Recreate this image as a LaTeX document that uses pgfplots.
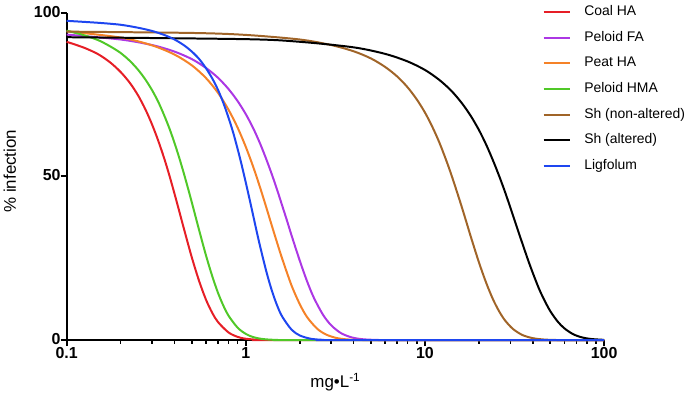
\documentclass[border=0pt]{standalone}
\usepackage{fontspec}
\setmainfont{Liberation Sans}
\usepackage{pgfplots}
\pgfplotsset{compat=1.18}

\definecolor{coalred}{RGB}{230,30,38}
\definecolor{peloidpurple}{RGB}{172,55,228}
\definecolor{peatorange}{RGB}{245,130,40}
\definecolor{hmagreen}{RGB}{80,200,40}
\definecolor{shbrown}{RGB}{160,100,40}
\definecolor{ligblue}{RGB}{30,70,240}

\begin{document}
\begin{tikzpicture}
\begin{axis}[
    scale only axis,
    width=540pt, height=329pt,
    xmode=log,
    xmin=0.1, xmax=100, ymin=0, ymax=100,
    axis lines=left,
    axis line style={line width=2pt, -},
    clip=false,
    xtick={0.1,1,10,100},
    xticklabels={0.1,1,10,100},
    minor xtick={0.2,0.3,0.4,0.5,0.6,0.7,0.8,0.9,2,3,4,5,6,7,8,9,20,30,40,50,60,70,80,90},
    ytick={0,50,100},
    yticklabels={0,50,100},
    tick align=outside,
    major tick length=6pt,
    minor tick length=3.5pt,
    tick style={line width=2pt, black},
    minor tick style={line width=1.6pt},
    /pgf/number format/assume math mode=true,
    tick label style={font=\fontsize{16}{16}\selectfont\bfseries, inner sep=0pt},
    xticklabel style={yshift=-1.5pt},
    yticklabel style={yshift=1pt},
    xlabel={mg•L\textsuperscript{-1}},
    xlabel style={at={(axis description cs:0.5,-0.1286)}, anchor=center, font=\fontsize{17}{17}\selectfont},
    ylabel={\% infection},
    ylabel style={at={(axis description cs:-0.1056,0.516)}, anchor=center, font=\fontsize{17}{17}\selectfont},
    legend cell align=left,
    legend image code/.code={\draw[#1, line width=2pt] (0pt,0pt) -- (27pt,0pt);},
    legend style={at={(axis description cs:0.885,1.0222)}, anchor=north west,
        draw=none, fill=none, inner sep=0pt, row sep=12.8pt,
        font=\fontsize{14}{14}\selectfont,
        nodes={inner sep=0pt, text height=10pt, text depth=3pt},
        /tikz/every odd column/.append style={column sep=13pt}},
    every axis plot/.append style={line width=2pt, no markers},
]
% Coal HA
\addplot[coalred, smooth] coordinates {
  (0.1,91.1) (0.125,89.3) (0.15,87.3) (0.175,84.8) (0.2,81.9) (0.225,78.6)
  (0.25,74.8) (0.275,70.5) (0.3,65.8) (0.325,60.8) (0.35,55.6) (0.375,50.2)
  (0.4,44.7) (0.425,39.4) (0.45,34.3) (0.5,25.2) (0.55,17.9) (0.6,12.3)
  (0.65,8.3) (0.7,5.5) (0.8,2.36) (0.9,0.99) (1.0,0.41) (1.2,0.07) (1.5,0) (100,0)
};
\addlegendentry{Coal HA}
% Peloid FA
\addplot[peloidpurple, smooth] coordinates {
  (0.1,93.3) (0.2,91.8) (0.3,90.1) (0.4,88.1) (0.5,85.8) (0.6,83.1) (0.7,80.1)
  (0.8,76.7) (0.9,73.0) (1.0,69.0) (1.1,64.7) (1.2,60.1) (1.3,55.3) (1.4,50.5)
  (1.5,45.7) (1.6,40.9) (1.7,36.4) (1.8,32.0) (2.0,24.3) (2.2,17.9) (2.4,12.9)
  (2.7,7.7) (3.0,4.5) (3.4,2.13) (3.9,0.83) (4.5,0.26) (5.5,0.04) (7,0) (100,0)
};
\addlegendentry{Peloid FA}
% Peat HA
\addplot[peatorange, smooth] coordinates {
  (0.1,94.3) (0.2,92.4) (0.3,90.0) (0.4,87.2) (0.5,83.9) (0.6,80.0) (0.7,75.5)
  (0.8,70.4) (0.9,64.9) (1.0,59.0) (1.1,52.9) (1.2,46.7) (1.3,40.6) (1.4,34.8)
  (1.5,29.5) (1.6,24.7) (1.8,16.7) (2.0,11.0) (2.2,7.0) (2.5,3.5) (2.8,1.73)
  (3.2,0.66) (3.7,0.2) (4.5,0.03) (6,0) (100,0)
};
\addlegendentry{Peat HA}
% Peloid HMA
\addplot[hmagreen, smooth] coordinates {
  (0.1,94.5) (0.125,93.1) (0.15,91.6) (0.175,89.7) (0.2,87.7) (0.225,85.3)
  (0.25,82.6) (0.275,79.6) (0.3,76.3) (0.325,72.7) (0.35,68.7) (0.375,64.6)
  (0.4,60.2) (0.425,55.7) (0.45,51.1) (0.475,46.5) (0.5,42.0) (0.55,33.4)
  (0.6,25.8) (0.65,19.5) (0.7,14.4) (0.75,10.5) (0.8,7.5) (0.9,3.8) (1.0,1.9)
  (1.1,0.92) (1.25,0.31) (1.5,0.05) (2,0) (100,0)
};
\addlegendentry{Peloid HMA}
% Sh (non-altered)
\addplot[shbrown, smooth] coordinates {
  (0.1,94.2) (0.5,93.8) (1,93.2) (2,91.8) (3,90.1) (4,88.2) (5,86.0) (6,83.4)
  (7,80.5) (8,77.2) (9,73.5) (10,69.5) (11,65.1) (12,60.5) (13,55.6) (14,50.7)
  (15,45.7) (16,40.9) (17,36.2) (18,31.7) (20,23.8) (22,17.4) (24,12.4)
  (26,8.7) (28,6.0) (31,3.4) (35,1.56) (40,0.59) (47,0.15) (60,0) (100,0)
};
\addlegendentry{Sh (non-altered)}
% Sh (altered)
\addplot[black, smooth] coordinates {
  (0.1,92.5) (1,91.9) (2,91.1) (4,89.4) (6,87.4) (8,85.1) (10,82.5) (12,79.5)
  (14,76.2) (16,72.5) (18,68.5) (20,64.2) (22,59.6) (24,54.8) (26,50.0)
  (28,45.2) (30,40.4) (32,35.8) (34,31.5) (36,27.5) (38,23.8) (40,20.5)
  (43,16.1) (46,12.6) (50,8.9) (55,5.7) (60,3.6) (67,1.84) (75,0.85)
  (85,0.33) (100,0.08)
};
\addlegendentry{Sh (altered)}
% Ligfolum
\addplot[ligblue, smooth] coordinates {
  (0.1,97.5) (0.15,96.9) (0.2,96.3) (0.25,95.4) (0.3,94.4) (0.35,93.2)
  (0.4,91.8) (0.45,90.1) (0.5,88.1) (0.55,85.8) (0.6,83.0) (0.65,79.9)
  (0.7,76.4) (0.75,72.4) (0.8,68.0) (0.85,63.4) (0.9,58.4) (0.95,53.3)
  (1.0,48.1) (1.05,43.0) (1.1,38.0) (1.15,33.2) (1.2,28.8) (1.3,21.1)
  (1.4,15.0) (1.5,10.4) (1.6,7.1) (1.8,3.2) (2.0,1.43) (2.3,0.42) (2.7,0.08)
  (3.2,0) (100,0)
};
\addlegendentry{Ligfolum}
\path (rel axis cs:-0.124,-0.1833) rectangle (rel axis cs:1.1444,1.0386);
\end{axis}
\end{tikzpicture}
\end{document}
